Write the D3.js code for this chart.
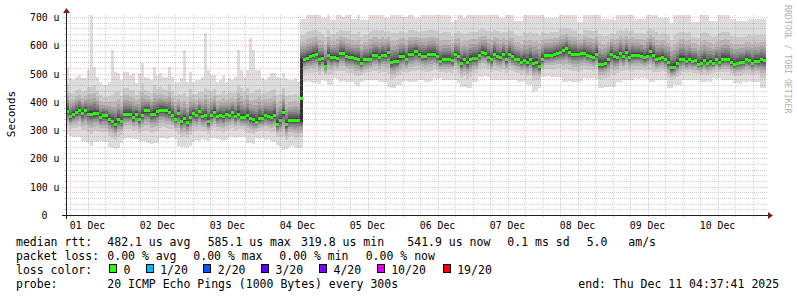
<!DOCTYPE html>
<html><head><meta charset="utf-8">
<script src="https://cdn.jsdelivr.net/npm/d3@7"></script>
<style>
body{margin:0;background:#fff}
svg{display:block}
text{font-family:"DejaVu Sans Mono",monospace;fill:#000}
</style>
</head><body>
<svg id="c" width="797" height="297"></svg>
<script>
// ---------------- data (microseconds) ----------------
const median = [
365,347,356,363,369,359,369,357,357,358,
359,345,352,350,339,332,320,337,332,356,
356,356,345,356,338,353,369,369,357,357,
365,371,371,368,362,353,339,359,332,340,
328,344,359,351,365,347,350,329,350,362,
347,352,347,357,353,361,347,356,345,345,
350,341,338,328,341,341,353,347,344,352,
321,335,362,320,335,335,335,335,412,548,
553,559,565,568,548,553,526,565,556,556,
553,571,571,559,556,556,553,549,536,548,
549,551,563,565,556,565,565,574,538,542,
544,559,562,551,568,568,577,568,562,
561,568,568,568,559,542,548,549,548,545,
568,559,536,548,538,551,553,553,563,575,
571,556,549,568,559,556,568,549,568,559,
551,548,540,545,540,549,536,540,524,548,
563,563,565,568,571,574,580,587,575,568,
568,568,571,571,565,562,556,568,533,
533,536,548,568,559,556,571,559,574,556,
565,565,565,562,556,562,577,565,549,553,
556,548,540,521,521,536,551,551,542,548,
544,545,533,536,545,536,542,536,548,538,
548,551,548,538,533,536,540,540,549,545,
536,544,542,548,545
];
const pingLo = [
283,280,277,275,277,262,259,255,244,257,
259,262,257,259,240,236,233,238,253,268,
271,273,270,268,259,261,257,253,250,255,
253,271,273,268,271,275,270,244,242,240,
238,243,259,265,263,267,265,262,271,273,
269,265,262,266,274,276,272,274,277,274,
254,256,252,271,269,273,265,267,263,259,
248,242,230,232,242,244,236,238,236,
471,473,469,465,466,463,477,475,459,461,
483,480,471,472,469,471,470,459,457,471,
472,477,478,476,477,471,470,471,453,448,
449,459,458,471,472,470,471,469,477,476,
471,470,472,483,482,484,477,476,478,477,
477,465,453,454,448,449,471,470,489,488,
490,489,477,476,478,477,477,476,478,477,
477,471,470,472,459,460,436,438,448,489,
488,490,489,487,489,488,471,470,472,471,
471,470,472,483,482,484,483,482,448,
448,453,452,454,453,471,470,477,476,478,
477,483,482,484,483,482,471,470,477,476,
478,477,448,449,459,458,460,477,476,478,
477,476,478,471,470,472,471,483,482,484,
477,476,478,477,465,466,464,471,470,472,
471,470,471,448,449
];
const pingHi = [
524,483,477,489,495,483,483,512,512,524,
489,471,459,459,471,483,507,501,477,507,
507,495,501,465,501,536,489,483,477,524,
495,501,489,489,524,489,471,471,483,489,
471,507,471,477,477,489,512,512,495,495,
471,477,495,471,483,477,489,524,512,489,
512,489,489,512,512,483,477,489,501,501,
489,483,501,483,477,477,483,471,707,
692,707,707,707,707,707,695,695,707,689,
689,707,707,701,707,707,692,692,707,689,
689,689,707,707,707,707,707,695,695,707,
707,707,707,701,701,707,707,695,695,707,
707,707,707,707,707,707,707,707,707,684,
690,707,707,695,707,707,707,707,707,707,
707,707,707,707,707,695,695,707,707,707,
687,687,687,707,707,707,707,707,707,707,
695,695,695,695,695,707,707,707,707,707,
707,684,684,707,707,707,707,707,707,
692,692,692,692,689,707,707,707,707,707,
707,692,692,692,692,707,707,707,707,695,
695,695,695,680,707,707,707,707,707,707,
683,683,683,707,707,707,686,686,686,707,
707,707,707,692,692,686,686,686,686,692,
692,692,692,692,692
];
// single high pings (outermost smoke only)
const spikeCols = [8, 15, 39, 46, 57, 61, 62];
const spikeVals = [707, 583, 583, 642, 583, 625, 583];
// column where the pings are split between two levels
const splitCols = [78];

const yTickValues = [0,100,200,300,400,500,600,700];
const yTickLabels = ["0","100 u","200 u","300 u","400 u","500 u","600 u","700 u"];

const rttStats = ["482.1 us avg","585.1 us max","319.8 us min","541.9 us now","0.1 ms sd","5.0","am/s"];
const lossStats = ["0.00 % avg","0.00 % max","0.00 % min","0.00 % now"];
const lossLabels = ["0","1/20","2/20","3/20","4/20","10/20","19/20"];
const lossColors = ["#26ff00","#00b8ff","#0059ff","#5e00ff","#7e00ff","#dd00ff","#ff0000"];
const probeText = "20 ICMP Echo Pings (1000 Bytes) every 300s";
const endText = "end: Thu Dec 11 04:37:41 2025";

// ---------------- chart ----------------
const svg = d3.select("#c");
const start = new Date(Date.UTC(2025,11,1,4,37,41));
const end = new Date(Date.UTC(2025,11,11,4,37,41));
const N = median.length;
const step = (end - start) / N;
const X0 = 66, X1 = 766, Y0 = 215, YT = 15;
const xs = d3.scaleUtc().domain([start, end]).range([X0, X1]);
const ys = d3.scaleLinear().domain([0, 707.07]).range([Y0, YT]);

const fr = [1,0.62,0.45,0.34,0.26,0.2,0.15,0.1,0.06,0.025];
const grays = fr.map((_,k)=>{const g=Math.round(190/10*(9-k)+50);return `rgb(${g},${g},${g})`;});

function bounds(i,k){
  const m = median[i];
  let l = m - (m - pingLo[i]) * fr[k];
  let h = m + (pingHi[i] - m) * fr[k];
  if (splitCols.includes(i)) { l = bounds(i-1,k)[0]; h = bounds(i+1,k)[1]; }
  const si = spikeCols.indexOf(i);
  if (k === 0 && si >= 0) h = spikeVals[si];
  return [l, h];
}
const colX = i => Math.round(xs(new Date(+start + i*step)));

const gSmoke = svg.append("g").attr("shape-rendering","crispEdges");
fr.forEach((f,k)=>{
  const rows = d3.range(N).map(i=>{const b=bounds(i,k);return {i,l:b[0],h:b[1]};});
  gSmoke.append("g").selectAll("rect").data(rows).join("rect")
    .attr("x", d=>colX(d.i))
    .attr("width", d=>colX(d.i+1)-colX(d.i))
    .attr("y", d=>Math.max(YT, Math.round(ys(d.h))))
    .attr("height", d=>Math.max(0, Math.round(ys(d.l)) - Math.max(YT, Math.round(ys(d.h)))))
    .attr("fill", grays[k]);
});

// median
svg.append("g").attr("shape-rendering","crispEdges").selectAll("rect").data(median).join("rect")
  .attr("x",(d,i)=>colX(i)).attr("width",(d,i)=>colX(i+1)-colX(i))
  .attr("y",d=>Math.round(ys(d)-1.5)).attr("height",3).attr("fill",lossColors[0]);

// grid
const gGrid = svg.append("g").attr("shape-rendering","crispEdges");
const minorCol = "rgba(143,143,143,0.4)", majorCol = "rgba(222,79,79,0.3)";
d3.range(20,701,20).forEach(v=>{
  const y = Math.round(ys(v)) + 0.5;
  const major = v % 100 === 0;
  gGrid.append("line").attr("x1",X0).attr("x2",X1).attr("y1",y).attr("y2",y)
    .attr("stroke", major?majorCol:minorCol).attr("stroke-dasharray","1,1");
  gGrid.append("line").attr("x1",major?X0-4:X0-2).attr("x2",X0).attr("y1",y).attr("y2",y)
    .attr("stroke", major?majorCol:minorCol);
  gGrid.append("line").attr("x1",X1).attr("x2",major?X1+2:X1+1).attr("y1",y).attr("y2",y)
    .attr("stroke", major?majorCol:minorCol);
});
d3.utcHour.every(6).range(start, end).forEach(t=>{
  const x = Math.round(xs(t)) + 0.5;
  const major = t.getUTCHours() === 0;
  gGrid.append("line").attr("x1",x).attr("x2",x).attr("y1",YT).attr("y2",Y0)
    .attr("stroke", major?majorCol:minorCol).attr("stroke-dasharray","1,1");
  gGrid.append("line").attr("x1",x).attr("x2",x).attr("y1",Y0).attr("y2",major?Y0+3:Y0+2)
    .attr("stroke", major?majorCol:minorCol);
});

// axes
const axisCol = "#1f1f1f", arrowCol = "#801f1f";
svg.append("line").attr("x1",X0-4).attr("x2",X1+4).attr("y1",Y0+0.5).attr("y2",Y0+0.5).attr("stroke",axisCol);
svg.append("line").attr("x1",X0+0.5).attr("x2",X0+0.5).attr("y1",Y0+4).attr("y2",YT-4).attr("stroke",axisCol);
svg.append("path").attr("d",`M${X1+2},${Y0-3}L${X1+2},${Y0+4}L${X1+7},${Y0+0.5}Z`).attr("fill",arrowCol);
svg.append("path").attr("d",`M${X0-3},${YT-2}L${X0+4},${YT-2}L${X0+0.5},${YT-7}Z`).attr("fill",arrowCol);

// y tick labels
svg.append("g").selectAll("text").data(yTickValues).join("text")
  .attr("x",(d,i)=> d===0 ? 47.5 : 59.5)
  .attr("y",d=>Math.round(ys(d))+3.6)
  .attr("text-anchor","end").attr("font-size","9.8px")
  .text((d,i)=>yTickLabels[i]);

// x tick labels
const days = d3.utcDay.range(d3.utcDay.floor(start), end).map(d=>d3.utcHour.offset(d,12)).filter(d=>d>=start && d<=end);
svg.append("g").selectAll("text").data(days).join("text")
  .attr("x",d=>xs(d)).attr("y",228.6).attr("text-anchor","middle").attr("font-size","9.8px")
  .text(d3.utcFormat("%d %b"));

// y title
svg.append("text").attr("transform","translate(11,114) rotate(-90)").attr("text-anchor","middle")
  .attr("dy","0.35em").attr("font-size","11px").text("Seconds");

// watermark
svg.append("text").attr("transform","translate(785,5) rotate(90)").attr("font-size","8.2px")
  .style("fill","#b3b3b3").text("RRDTOOL / TOBI OETIKER");

// legend
const lf = "11.5px";
const rowY = [245.5, 259.5, 273.5, 287.5];
const L = svg.append("g").attr("font-size",lf).attr("xml:space","preserve");
L.append("text").attr("x",16).attr("y",rowY[0]).text("median rtt:");
[107.3,207.7,301,407.3,507.3,586.7,628.3].forEach((x,i)=>L.append("text").attr("x",x).attr("y",rowY[0]).text(rttStats[i]));
L.append("text").attr("x",16).attr("y",rowY[1]).text("packet loss:");
[107.3,193.3,279.3,365.7].forEach((x,i)=>L.append("text").attr("x",x).attr("y",rowY[1]).text(lossStats[i]));
L.append("text").attr("x",16).attr("y",rowY[2]).text("loss color:");
[109,145.7,203.3,261,319,376.7,442.7].forEach((x,i)=>{
  L.append("rect").attr("x",Math.round(x)+0.5).attr("y",264.5).attr("width",7).attr("height",8)
    .attr("fill",lossColors[i]).attr("stroke","#000").attr("shape-rendering","crispEdges");
  L.append("text").attr("x",x+14.5).attr("y",rowY[2]).text(lossLabels[i]);
});
L.append("text").attr("x",16).attr("y",rowY[3]).text("probe:");
L.append("text").attr("x",107.3).attr("y",rowY[3]).text(probeText);
L.append("text").attr("x",578.3).attr("y",rowY[3]).text(endText);
</script>
</body></html>
